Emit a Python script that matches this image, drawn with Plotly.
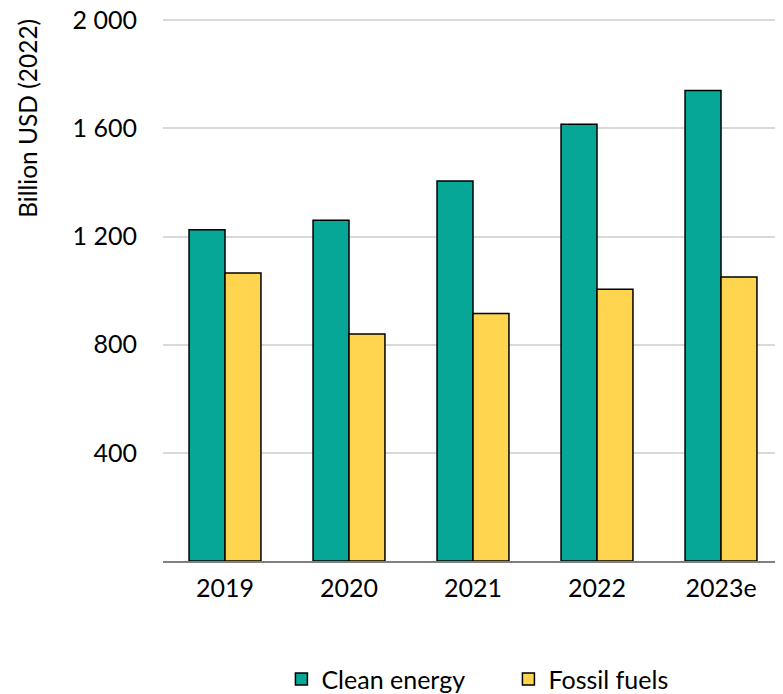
import plotly.graph_objects as go

years = ["2019", "2020", "2021", "2022", "2023e"]
clean_energy = [1225, 1260, 1405, 1615, 1740]
fossil_fuels = [1065, 840, 915, 1005, 1050]

FONT = "Lato, Open Sans, sans-serif"

fig = go.Figure()

fig.add_trace(go.Bar(
    x=years,
    y=clean_energy,
    name="Clean energy",
    marker=dict(color="#06A797", line=dict(color="#000000", width=1.5))
))

fig.add_trace(go.Bar(
    x=years,
    y=fossil_fuels,
    name="Fossil fuels",
    marker=dict(color="#FFD54F", line=dict(color="#000000", width=1.5))
))

# y-axis title sits at the top, like the original
fig.add_annotation(
    text="Billion USD (2022)",
    xref="paper", yref="paper",
    x=-0.219, y=1.0,
    xanchor="center", yanchor="top",
    textangle=-90,
    showarrow=False,
    font=dict(size=24.5, family=FONT, color="#000000"),
)

# page body has an 8px margin, so the figure is a bit smaller than the window
fig.update_layout(
    width=775,
    height=686,
    template="plotly_white",
    plot_bgcolor="white",
    paper_bgcolor="white",
    barmode="group",
    bargap=0.42,
    bargroupgap=0,
    margin=dict(l=155, r=0, t=9, b=133, autoexpand=False),
    font=dict(family=FONT, size=25, color="#000000"),
    legend=dict(
        orientation="h",
        x=0.191,
        xanchor="left",
        y=-0.175,
        yanchor="top",
        font=dict(size=25),
        entrywidth=182,
        traceorder="normal",
    ),
    xaxis=dict(
        showgrid=False,
        showline=True,
        linecolor="#808080",
        linewidth=1.5,
        ticks="",
        ticklabelstandoff=4,
        tickfont=dict(size=25),
        automargin=False,
    ),
    yaxis=dict(
        range=[0, 2012],
        tickvals=[400, 800, 1200, 1600, 2000],
        ticktext=["400", "800", "1 200", "1 600", "2 000"],
        showgrid=True,
        gridcolor="#D9D9D9",
        gridwidth=1.5,
        zeroline=False,
        showline=False,
        ticks="",
        ticklabelstandoff=25,
        ticklabeloverflow="allow",
        tickfont=dict(size=25),
        automargin=False,
    ),
)

fig.write_html("out.html")
